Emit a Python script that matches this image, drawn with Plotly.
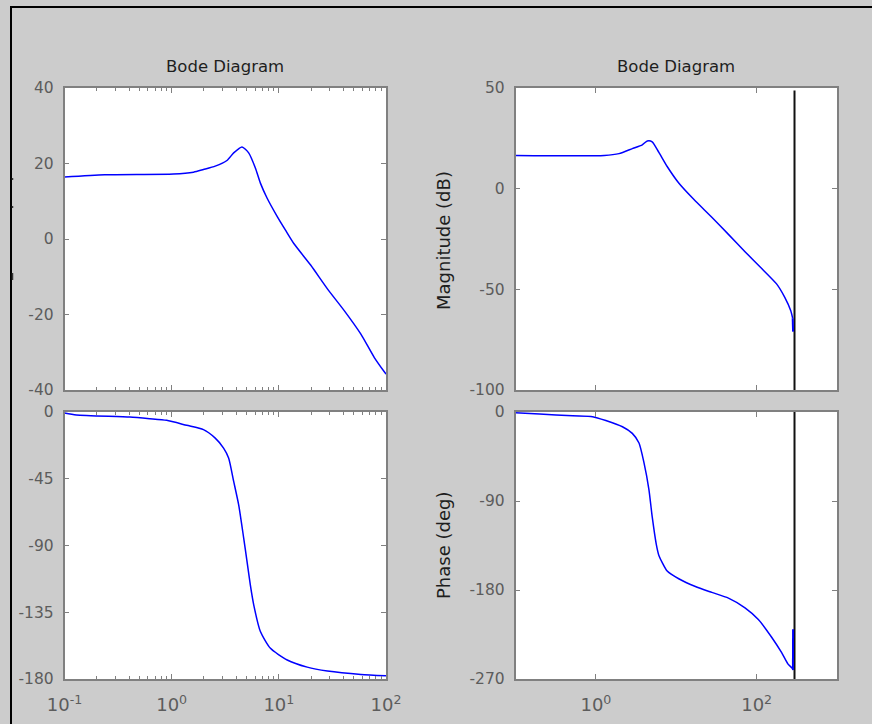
import plotly.graph_objects as go

# ---- continuous-time response (left column) ----
cont_mag_freq = [0.1, 0.237, 1.04, 1.6, 1.98, 2.55, 3.28, 3.79, 4.53, 5.23, 6.04,
                 6.73, 7.78, 9.64, 11.5, 13.8, 19.8, 28.4, 40.6, 58.3, 77.8, 100]
cont_mag_db = [16.4, 17.0, 17.2, 17.7, 18.4, 19.3, 20.8, 22.8, 24.4, 22.8, 18.8,
               14.8, 10.8, 6.0, 2.4, -1.2, -6.9, -13.2, -18.9, -25.2, -31.4, -35.8]

cont_ph_freq = [0.1, 0.129, 0.407, 0.626, 0.898, 1.38, 1.98, 2.55, 3.05, 3.40, 3.79,
                4.22, 4.70, 5.05, 5.42, 5.83, 6.73, 8.35, 11.97, 18.4, 28.4, 58.3, 100]
cont_ph_deg = [-0.7, -2.0, -3.4, -4.5, -5.6, -9.0, -11.9, -17.6, -24.3, -31.0, -46.8,
               -62.6, -85.0, -100.8, -116.6, -130.0, -148.0, -159.3, -167.2, -172.0,
               -174.6, -176.9, -177.8]

# ---- discrete-time response (right column) ----
disc_mag_freq = [0.1, 1.27, 1.94, 2.84, 3.78, 4.36, 5.02, 6.08, 7.71, 10.74, 16.5,
                 27.7, 44.6, 71.7, 110, 177, 224, 266, 281, 284]
disc_mag_db = [16.5, 16.5, 17.4, 19.9, 21.8, 23.7, 23.3, 18.0, 11.0, 2.8, -5.3,
               -14.2, -22.7, -31.3, -38.8, -47.3, -54.0, -60.6, -64.4, -71.0]

disc_ph_freq = [0.1, 0.199, 0.514, 0.91, 1.33, 2.14, 2.84, 3.44, 3.96, 4.57, 5.02,
                5.63, 6.08, 7.71, 10.74, 17.3, 27.7, 44.6, 71.7, 105, 153, 204, 246,
                280, 283, 284]
disc_ph_deg = [-0.8, -2.0, -3.9, -4.7, -8.6, -14.9, -21.6, -31.4, -51.0, -78.4, -105.9,
               -133.3, -145.0, -160.8, -168.6, -176.5, -182.4, -188.2, -198.0, -209.8,
               -227.5, -243.1, -255.0, -259.5, -261.0, -219.6]

nyquist_freq = 296

# axis ranges and ticks
cont_mag_range = [-40, 40]
cont_mag_ticks = [-40, -20, 0, 20, 40]
cont_ph_range = [-180, 0]
cont_ph_ticks = [-180, -135, -90, -45, 0]
disc_mag_range = [-100, 50]
disc_mag_ticks = [-100, -50, 0, 50]
disc_ph_range = [-270, 0]
disc_ph_ticks = [-270, -180, -90, 0]
cont_freq_ticks = [0.1, 1, 10, 100]
cont_freq_labels = ["10<sup>-1</sup>", "10<sup>0</sup>", "10<sup>1</sup>", "10<sup>2</sup>"]
disc_freq_ticks = [1, 100]
disc_freq_labels = ["10<sup>0</sup>", "10<sup>2</sup>"]

W, H = 872, 724
BG = "#cccccc"
AXC = "#808080"
TXT = "#5c5c5c"
FONT = "DejaVu Sans"
CURVE = dict(color="#0000ff", width=1.5, shape="spline", smoothing=0.6)


def px_x(v):
    return v / W


def px_y(v):
    return 1 - v / H


left_dom = [px_x(64.5), px_x(386)]
right_dom = [px_x(515.5), px_x(837)]
mag_dom = [px_y(390), px_y(88)]
ph_dom = [px_y(679), px_y(412)]

fig = go.Figure()
fig.add_trace(go.Scatter(x=cont_mag_freq, y=cont_mag_db, mode="lines", line=CURVE,
                         xaxis="x", yaxis="y", showlegend=False))
fig.add_trace(go.Scatter(x=cont_ph_freq, y=cont_ph_deg, mode="lines", line=CURVE,
                         xaxis="x2", yaxis="y2", showlegend=False))
fig.add_trace(go.Scatter(x=[nyquist_freq, nyquist_freq], y=[disc_mag_range[0], disc_mag_range[1] - 1.3],
                         mode="lines", line=dict(color="#111111", width=2),
                         xaxis="x3", yaxis="y3", showlegend=False))
fig.add_trace(go.Scatter(x=disc_mag_freq[:-1], y=disc_mag_db[:-1], mode="lines", line=CURVE,
                         xaxis="x3", yaxis="y3", showlegend=False))
fig.add_trace(go.Scatter(x=disc_mag_freq[-2:], y=disc_mag_db[-2:], mode="lines",
                         line=dict(color="#0000ff", width=2),
                         xaxis="x3", yaxis="y3", showlegend=False))
fig.add_trace(go.Scatter(x=[nyquist_freq, nyquist_freq], y=disc_ph_range,
                         mode="lines", line=dict(color="#111111", width=2),
                         xaxis="x4", yaxis="y4", showlegend=False))
fig.add_trace(go.Scatter(x=disc_ph_freq[:-1], y=disc_ph_deg[:-1], mode="lines", line=CURVE,
                         xaxis="x4", yaxis="y4", showlegend=False))
fig.add_trace(go.Scatter(x=disc_ph_freq[-2:], y=disc_ph_deg[-2:], mode="lines",
                         line=dict(color="#0000ff", width=2),
                         xaxis="x4", yaxis="y4", showlegend=False))

common = dict(showline=True, linecolor=AXC, linewidth=1.5, mirror="allticks",
              ticks="inside", ticklen=5, tickcolor=AXC, tickwidth=1,
              showgrid=False, zeroline=False, fixedrange=True, automargin=False,
              tickfont=dict(family=FONT, size=15.5, color=TXT))


def xaxis(dom, anchor, rng, tv, tt, show, minor):
    d = dict(common, type="log", domain=dom, anchor=anchor, range=rng,
             tickvals=tv, ticktext=tt, showticklabels=show, ticklabelstandoff=9)
    d["tickfont"] = dict(family=FONT, size=18, color=TXT)
    if minor:
        d["minor"] = dict(ticks="inside", ticklen=3, dtick="D1", tickcolor=AXC,
                          showgrid=False)
    return d


def yaxis(dom, anchor, rng, tv):
    return dict(common, domain=dom, anchor=anchor, range=rng, tickvals=tv,
                ticktext=[str(v) for v in tv], ticklabelstandoff=6)


fig.update_layout(
    width=W, height=H, autosize=False,
    margin=dict(l=0, r=0, t=0, b=0, pad=0, autoexpand=False),
    paper_bgcolor=BG, plot_bgcolor="white", showlegend=False,
    xaxis=xaxis(left_dom, "y", [-1, 2], cont_freq_ticks, cont_freq_labels, False, True),
    yaxis=yaxis(mag_dom, "x", cont_mag_range, cont_mag_ticks),
    xaxis2=xaxis(left_dom, "y2", [-1, 2], cont_freq_ticks, cont_freq_labels, True, True),
    yaxis2=yaxis(ph_dom, "x2", cont_ph_range, cont_ph_ticks),
    xaxis3=xaxis(right_dom, "y3", [-1, 3], disc_freq_ticks, disc_freq_labels, False, False),
    yaxis3=yaxis(mag_dom, "x3", disc_mag_range, disc_mag_ticks),
    xaxis4=xaxis(right_dom, "y4", [-1, 3], disc_freq_ticks, disc_freq_labels, True, False),
    yaxis4=yaxis(ph_dom, "x4", disc_ph_range, disc_ph_ticks),
)

title_font = dict(family=FONT, size=16.5, color="#1e1e1e")
label_font = dict(family=FONT, size=18, color="#1e1e1e")
for dom in (left_dom, right_dom):
    fig.add_annotation(text="Bode Diagram", x=(dom[0] + dom[1]) / 2, y=px_y(66),
                       xref="paper", yref="paper", showarrow=False,
                       xanchor="center", yanchor="middle", font=title_font)
fig.add_annotation(text="Magnitude (dB)", x=px_x(443), y=px_y(241), textangle=-90,
                   xref="paper", yref="paper", showarrow=False,
                   xanchor="center", yanchor="middle", font=label_font)
fig.add_annotation(text="Phase (deg)", x=px_x(443), y=px_y(546), textangle=-90,
                   xref="paper", yref="paper", showarrow=False,
                   xanchor="center", yanchor="middle", font=label_font)

# window frame edges and stray marks along the left edge
shapes = [
    dict(type="line", xref="paper", yref="paper", x0=px_x(10), x1=1, y0=px_y(7), y1=px_y(7),
         line=dict(color="black", width=2)),
    dict(type="line", xref="paper", yref="paper", x0=px_x(11), x1=px_x(11), y0=0, y1=px_y(6),
         line=dict(color="black", width=2)),
]
for y0, y1 in [(178, 180), (206, 208), (273, 280)]:
    shapes.append(dict(type="line", xref="paper", yref="paper", x0=px_x(12.5), x1=px_x(12.5),
                       y0=px_y(y0), y1=px_y(y1), line=dict(color="#333333", width=1.5)))
fig.update_layout(shapes=shapes)

fig.write_html("out.html")
